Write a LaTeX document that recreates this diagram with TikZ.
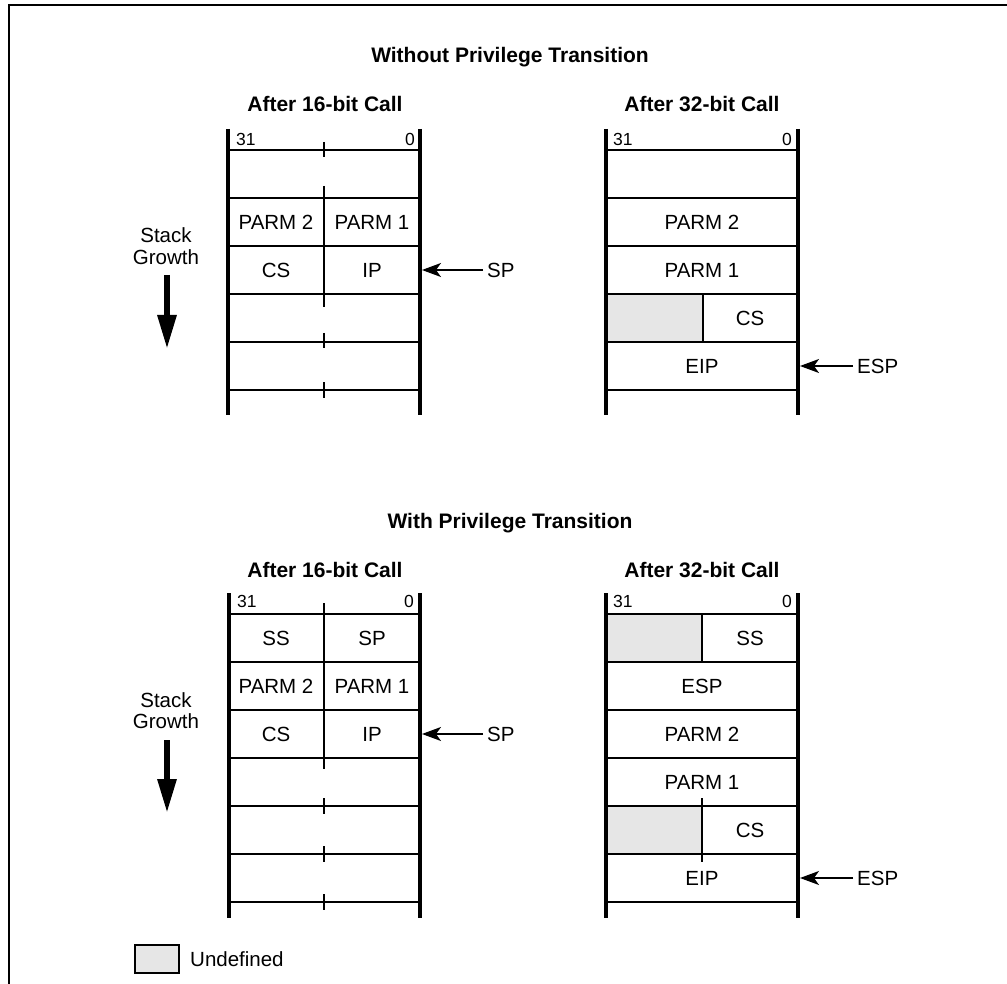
\documentclass[tikz,border=0pt]{standalone}
\usepackage{fontspec}
\setmainfont{Liberation Sans}
\usetikzlibrary{arrows.meta}
\definecolor{undefgray}{HTML}{E6E6E6}
\begin{document}
\begin{tikzpicture}[x=1pt,y=-1pt,
  thinln/.style={line width=1.3pt},
  wall/.style={line width=3.6pt},
  cell/.style={inner sep=0pt, font=\fontsize{20.5}{24}\selectfont},
  bitlbl/.style={inner sep=0pt, font=\fontsize{17.5}{20}\selectfont},
  ttl/.style={inner sep=0pt, anchor=base, font=\fontsize{21}{25}\selectfont\bfseries},
  ptrlbl/.style={inner ysep=0pt, inner xsep=4pt, anchor=west, font=\fontsize{20.5}{24}\selectfont},
  ptr/.style={line width=1.3pt, -{Stealth[length=19pt,width=14pt,inset=5pt]}},
  growth/.style={line width=6pt, -{Triangle[length=34pt,width=18pt]}},
  framln/.style={line width=2pt, line join=miter}]
\useasboundingbox (0,0) rectangle (1007,984);
\fill[white] (0,0) rectangle (1007,984);
% outer frame (top and left)
\draw[framln] (1007,5) -- (9,5) -- (9,984);

% ===================== Without Privilege Transition =====================
\node[ttl] (t1) at (510,63) {Without Privilege Transition};
\node[ttl] (t1a) at (325,112) {After 16-bit Call};
\node[ttl] (t1b) at (702,112) {After 32-bit Call};

% Stack growth (top)
\node[cell] (sg1a) at (166,235) {Stack};
\node[cell] (sg1b) at (166,257) {Growth};
\coordinate (g1s) at (167,275);
\coordinate (g1e) at (167,349);
\draw[growth] (g1s) -- (g1e);

% --- top-left stack
\foreach \y in {150,198,246,294,342,390} \draw[thinln] (228,\y) -- (420,\y);
\draw[thinln] (324,142) -- (324,157);
\draw[thinln] (324,186) -- (324,307);
\draw[thinln] (324,333) -- (324,348);
\draw[thinln] (324,382) -- (324,398);
\draw[wall] (228,129) -- (228,415);
\draw[wall] (420,129) -- (420,415);
\node[bitlbl, anchor=west] (a31) at (236,139) {31};
\node[bitlbl, anchor=east] (a0) at (415,139) {0};
\node[cell] (ap2) at (276,222) {PARM 2};
\node[cell] (ap1) at (372,222) {PARM 1};
\node[cell] (acs) at (276,270) {CS};
\node[cell] (aip) at (372,270) {IP};
\node[ptrlbl] (asp) at (483,270) {SP};
\coordinate (aptr) at (422,270);
\draw[ptr] (asp.west) -- (aptr);

% --- top-right stack
\fill[undefgray] (606,294) rectangle (703,342);
\foreach \y in {150,198,246,294,342,390} \draw[thinln] (606,\y) -- (798,\y);
\draw[thinln] (703,294) -- (703,342);
\draw[wall] (606,129) -- (606,415);
\draw[wall] (798,129) -- (798,415);
\node[bitlbl, anchor=west] (b31) at (613,139) {31};
\node[bitlbl, anchor=east] (b0) at (792,139) {0};
\node[cell] (bp2) at (702,222) {PARM 2};
\node[cell] (bp1) at (702,270) {PARM 1};
\node[cell] (bcs) at (750,318) {CS};
\node[cell] (beip) at (702,366) {EIP};
\node[ptrlbl] (besp) at (853,366) {ESP};
\coordinate (bptr) at (800,366);
\draw[ptr] (besp.west) -- (bptr);

% ===================== With Privilege Transition =====================
\node[ttl] (t2) at (510,528) {With Privilege Transition};
\node[ttl] (t2a) at (325,577) {After 16-bit Call};
\node[ttl] (t2b) at (702,577) {After 32-bit Call};

% Stack growth (bottom)
\node[cell] (sg2a) at (166,700) {Stack};
\node[cell] (sg2b) at (166,721) {Growth};
\coordinate (g2s) at (167,740);
\coordinate (g2e) at (167,813);
\draw[growth] (g2s) -- (g2e);

% --- bottom-left stack
\foreach \y in {614,662,710,758,806,854,902} \draw[thinln] (229,\y) -- (420,\y);
\draw[thinln] (324,603) -- (324,769);
\draw[thinln] (324,798) -- (324,814);
\draw[thinln] (324,846) -- (324,862);
\draw[thinln] (324,894) -- (324,910);
\draw[wall] (229,593) -- (229,918);
\draw[wall] (420,593) -- (420,918);
\node[bitlbl, anchor=west] (c31) at (237,601) {31};
\node[bitlbl, anchor=east] (c0) at (414,601) {0};
\node[cell] (css) at (276,638) {SS};
\node[cell] (csp) at (372,638) {SP};
\node[cell] (cp2) at (276,686) {PARM 2};
\node[cell] (cp1) at (372,686) {PARM 1};
\node[cell] (ccs) at (276,734) {CS};
\node[cell] (cip) at (372,734) {IP};
\node[ptrlbl] (csplbl) at (483,734) {SP};
\coordinate (cptr) at (422,734);
\draw[ptr] (csplbl.west) -- (cptr);

% --- bottom-right stack
\fill[undefgray] (606,614) rectangle (702,662);
\fill[undefgray] (606,806) rectangle (702,854);
\foreach \y in {614,662,710,758,806,854,902} \draw[thinln] (606,\y) -- (798,\y);
\draw[thinln] (702,614) -- (702,662);
\draw[thinln] (702,798) -- (702,862);
\draw[wall] (606,593) -- (606,918);
\draw[wall] (798,593) -- (798,918);
\node[bitlbl, anchor=west] (d31) at (613,601) {31};
\node[bitlbl, anchor=east] (d0) at (792,601) {0};
\node[cell] (dss) at (750,638) {SS};
\node[cell] (desp) at (702,686) {ESP};
\node[cell] (dp2) at (702,734) {PARM 2};
\node[cell] (dp1) at (702,782) {PARM 1};
\node[cell] (dcs) at (750,830) {CS};
\node[cell] (deip) at (702,878) {EIP};
\node[ptrlbl] (desplbl) at (853,878) {ESP};
\coordinate (dptr) at (800,878);
\draw[ptr] (desplbl.west) -- (dptr);

% legend
\draw[thinln, fill=undefgray] (135,945) rectangle (179,973);
\node[cell, anchor=west] (leg) at (190,959) {Undefined};
\end{tikzpicture}
\end{document}
